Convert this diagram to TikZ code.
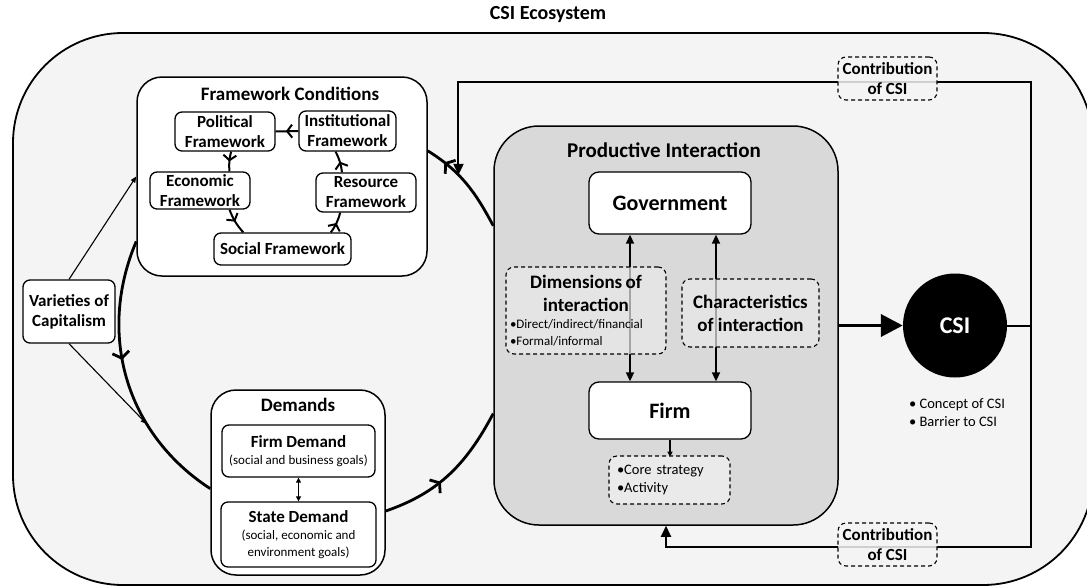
\documentclass[tikz,border=0pt]{standalone}
\usepackage{fontspec}
\setmainfont{Carlito}
\usepackage{tikz}
\usetikzlibrary{positioning, arrows.meta, decorations.markings}
\usepackage{xcolor}

\definecolor{ecobg}{HTML}{F4F4F4}
\definecolor{prodgray}{HTML}{D9D9D9}
\definecolor{dimgray}{HTML}{EAEAEA}

\newcommand{\ecotitlefont}{\fontsize{20}{24}\selectfont\bfseries}
\newcommand{\groupfont}{\fontsize{19}{23}\selectfont\bfseries}
\newcommand{\boxfont}{\fontsize{17}{20}\selectfont\bfseries}
\newcommand{\bigboxfont}{\fontsize{22}{26}\selectfont\bfseries}
\newcommand{\notefont}{\fontsize{14.5}{18}\selectfont}
\newcommand{\smallnotefont}{\fontsize{13}{17}\selectfont}

\begin{document}
\begin{tikzpicture}[
    x=1pt, y=1pt,
    box/.style={draw, fill=white, rounded corners=7pt, line width=1.3pt, align=center, inner sep=2pt},
    group/.style={draw, fill=white, rounded corners=25pt, line width=1.5pt},
    dashbox/.style={draw, dash pattern=on 4pt off 3pt, rounded corners=8pt, line width=1.1pt, inner sep=3pt},
    flow/.style={line width=2.8pt},
    inflow/.style={line width=2pt},
    midarrow/.style={decoration={markings, mark=at position #1 with {\arrow{Straight Barb[length=6pt,width=17pt]}}}, postaction={decorate}},
    smallmid/.style={decoration={markings, mark=at position #1 with {\arrow{Straight Barb[length=5pt,width=13pt]}}}, postaction={decorate}},
    thinarrow/.style={line width=1.1pt, -{Triangle[length=6pt,width=5pt]}},
    dbl/.style={line width=1.6pt, {Triangle[length=9pt,width=8pt]}-{Triangle[length=9pt,width=8pt]}},
    fb/.style={line width=2pt, -{Triangle[length=11pt,width=10pt]}}
]
    \useasboundingbox (0,0) rectangle (1087,-587);

    % Ecosystem
    \node[draw, fill=ecobg, rounded corners=110pt, line width=1.8pt, minimum width=1080, minimum height=552] (eco) at (553,-309) {};
    \node[font=\ecotitlefont] (ecotitle) at (548,-15) {CSI Ecosystem};

    % Framework Conditions
    \node[group, minimum width=290, minimum height=199] (frame) at (282,-176.5) {};
    \node[font=\groupfont] (frametitle) at (290,-94) {Framework Conditions};
    \node[box, font=\boxfont, minimum width=100, minimum height=39] (pol) at (225,-131.5) {Political\\Framework};
    \node[box, font=\boxfont, minimum width=97, minimum height=40] (inst) at (347.5,-131) {Institutional\\Framework};
    \node[box, font=\boxfont, minimum width=100, minimum height=37] (econ) at (200,-190.5) {Economic\\Framework};
    \node[box, font=\boxfont, minimum width=100, minimum height=39] (res) at (366,-192.5) {Resource\\Framework};
    \node[box, font=\boxfont, minimum width=137, minimum height=32] (social) at (282.5,-249) {Social Framework};

    \draw[inflow, smallmid=0.55] (inst.west) -- (pol.east);
    \draw[inflow, smallmid=0.5] (pol.-73) to[bend right=10] (econ.33);
    \draw[inflow, smallmid=0.5] (econ.-33) to[bend right=10] (social.157);
    \draw[inflow, smallmid=0.5] (social.19) to[bend right=10] (res.218);
    \draw[inflow, smallmid=0.5] (res.140) to[bend right=10] (inst.240);

    % Varieties of Capitalism
    \node[box, font=\boxfont, minimum width=92, minimum height=63] (var) at (69,-311.5) {Varieties of\\Capitalism};

    % Demands
    \node[group, minimum width=174, minimum height=185] (dem) at (298,-482.5) {};
    \node[font=\groupfont] (demtitle) at (298,-405) {Demands};
    \node[box, font=\smallnotefont, minimum width=153, minimum height=52] (firmdem) at (298.5,-451) {{\boxfont Firm Demand}\\(social and business goals)};
    \node[box, font=\smallnotefont, minimum width=155, minimum height=65] (statedem) at (298.5,-534.5) {{\boxfont State Demand}\\(social, economic and\\environment goals)};
    \draw[line width=1.1pt, {Triangle[length=5pt,width=5pt]}-{Triangle[length=5pt,width=5pt]}] (firmdem) -- (statedem);

    % Productive Interaction
    \node[group, fill=prodgray, rounded corners=45pt, minimum width=344, minimum height=399] (prod) at (666,-325.5) {};
    \node[font=\fontsize{21}{25}\selectfont\bfseries] (prodtitle) at (664,-150) {Productive Interaction};
    \node[box, font=\bigboxfont, rounded corners=10pt, minimum width=162, minimum height=62] (gov) at (670,-203) {Government};
    \node[box, font=\bigboxfont, rounded corners=10pt, minimum width=162, minimum height=57] (firm) at (670,-410.5) {Firm};

    \draw[dbl] ([xshift=-40pt]gov.south) -- ([xshift=-40pt]firm.north);
    \draw[dbl] ([xshift=46pt]gov.south) -- ([xshift=46pt]firm.north);

    \node[dashbox, fill=dimgray, fill opacity=0.7, text opacity=1, minimum width=160, minimum height=87, text width=152pt] (dim) at (586,-310.5)
        {{\centering\groupfont Dimensions of\\interaction\par}{\smallnotefont\raggedright •Direct/indirect/financial\\•Formal/informal\par}};
    \node[dashbox, fill=dimgray, fill opacity=0.7, text opacity=1, font=\groupfont, align=center, minimum width=137, minimum height=68] (chars) at (750.5,-313) {Characteristics\\of interaction};

    \draw[line width=1.3pt, -{Triangle[length=5pt,width=5pt]}] (firm.south) -- ++(0,-17) coordinate (coretop);
    \node[dashbox, fill=dimgray, font=\notefont, align=left, text width=105pt, minimum width=121, minimum height=48] (core) at (669.5,-480) {•Core strategy\\•Activity};

    % Loop
    \draw[flow, midarrow=0.8] (prod.150) to[out=118, in=328] coordinate[pos=0.62] (loopfb) (frame.10);
    \draw[flow, midarrow=0.43] (frame.204) to[out=247, in=147] coordinate[pos=0.68] (loopvar) (dem.184);
    \draw[flow, midarrow=0.42] (dem.342) to[out=19, in=242] (prod.207);

    \draw[thinarrow] (var.north) -- (frame.west);
    \draw[thinarrow] (var.south) -- (loopvar);

    % CSI
    \node[circle, fill=black, text=white, font=\fontsize{24}{28}\selectfont\bfseries, minimum size=104] (csi) at (955,-325.5) {CSI};
    \draw[line width=3.8pt, -{Triangle[length=22pt,width=22pt]}] (prod.east) -- (csi.west);
    \node[font=\notefont, align=left] (csinotes) at (957,-413) {• Concept of CSI\\• Barrier to CSI};

    % Contribution of CSI
    \coordinate (fbtop) at (1031,-82);
    \coordinate (fbbot) at (1031,-547);
    \draw[fb] (csi.east) -| (fbtop) -| (loopfb);
    \draw[fb] (csi.east) -| (fbbot) -| (prod.south);
    \node[dashbox, fill=ecobg, fill opacity=0.85, text opacity=1, font=\boxfont, align=center, minimum width=99, minimum height=43] (contribtop) at (887.5,-78.5) {Contribution\\of CSI};
    \node[dashbox, fill=ecobg, fill opacity=0.85, text opacity=1, font=\boxfont, align=center, minimum width=99, minimum height=43] (contribbot) at (887.5,-544.5) {Contribution\\of CSI};
\end{tikzpicture}
\end{document}
